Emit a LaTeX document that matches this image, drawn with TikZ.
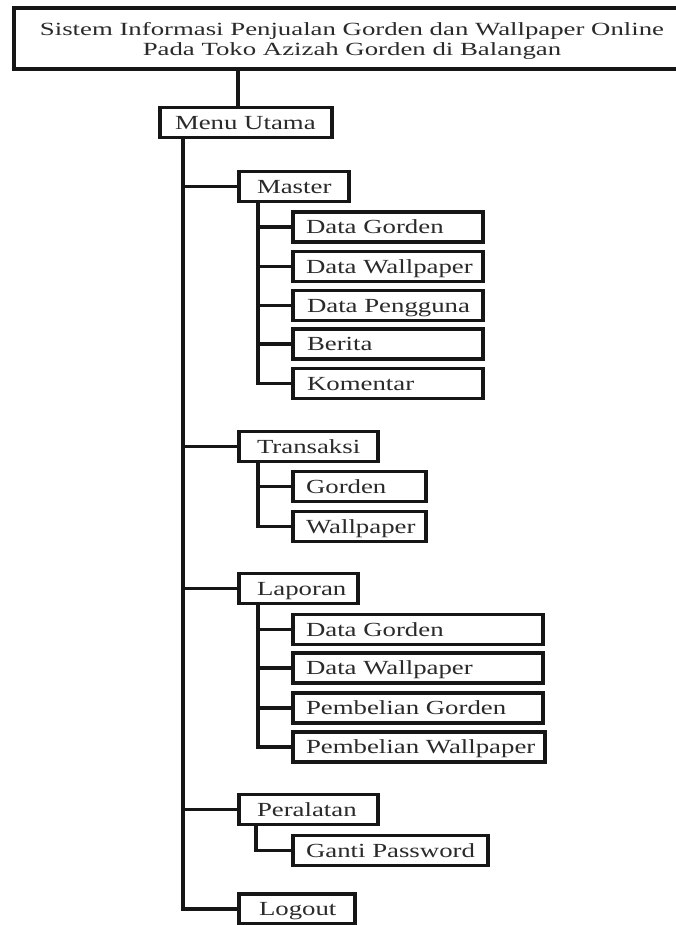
\documentclass[tikz,border=0pt]{standalone}
\usepackage{fontspec}
\setmainfont{Liberation Serif}[FakeStretch=1.34]
\newfontfamily\titlefont{Liberation Serif}[FakeStretch=1.44]
\definecolor{ink}{HTML}{161616}
\definecolor{txt}{HTML}{2A2A2A}
\newcommand\bl[3]{\hbox to #1pt{\hskip#2pt #3\hfil}}
\begin{document}
\begin{tikzpicture}[x=1pt,y=-1pt,
  bx/.style={draw=ink, line width=3.1pt, inner sep=0pt, outer sep=0pt,
    minimum height=30pt, text height=13.3pt, text depth=0pt, anchor=west,
    text=txt, font=\fontsize{20}{20}\selectfont},
  ttl/.style={draw=ink, line width=3.1pt, inner sep=0pt, outer sep=0pt,
    minimum width=676pt, minimum height=61pt, align=center, text=txt,
    font=\titlefont\fontsize{18.6}{19.5}\selectfont},
  ln/.style={draw=ink, line width=3.1pt}]
\useasboundingbox (0,0) rectangle (676,925);
\fill[white] (0,0) rectangle (676,925);

\node[ttl] (title) at (352,38.5) {\rule{0pt}{19pt}Sistem Informasi Penjualan Gorden dan Wallpaper Online\\Pada Toko Azizah Gorden di Balangan\rule[-5pt]{0pt}{0pt}};

\node[bx] (mu) at (160,122.5) {\bl{172}{15}{Menu Utama}};

\node[bx] (ms) at (239,186.5) {\bl{110}{18}{Master}};
\node[bx] (m1) at (293,227)   {\bl{190}{13}{Data Gorden}};
\node[bx] (m2) at (293,266.5) {\bl{190}{13}{Data Wallpaper}};
\node[bx] (m3) at (293,305.5) {\bl{190}{14}{Data Pengguna}};
\node[bx] (m4) at (293,344)   {\bl{190}{14}{Berita}};
\node[bx] (m5) at (293,383.5) {\bl{190}{14}{Komentar}};

\node[bx] (tx) at (239,446.5) {\bl{139}{18}{Transaksi}};
\node[bx] (t1) at (293,486.5) {\bl{133}{13}{Gorden}};
\node[bx] (t2) at (293,526.5) {\bl{133}{13}{Wallpaper}};

\node[bx] (lp) at (239,588.5) {\bl{119}{18}{Laporan}};
\node[bx] (l1) at (293,629.5) {\bl{250}{13}{Data Gorden}};
\node[bx] (l2) at (293,668)   {\bl{250}{13}{Data Wallpaper}};
\node[bx] (l3) at (293,708)   {\bl{250}{13}{Pembelian Gorden}};
\node[bx] (l4) at (293,747)   {\bl{252}{13}{Pembelian Wallpaper}};

\node[bx] (pr) at (239,809.5) {\bl{139}{18}{Peralatan}};
\node[bx] (p1) at (293,850.5) {\bl{195}{13}{Ganti Password}};

\node[bx] (lo) at (239,909)   {\bl{116}{20}{Logout}};

% title to menu
\draw[ln] ([xshift=-8pt]mu.north) -- ([xshift=-8pt]mu.north |- title.south);

% main trunk
\coordinate (tr) at ([xshift=23pt]mu.south west);
\draw[ln] (tr) |- (lo.west);
\foreach \n in {ms,tx,lp,pr} \draw[ln] (tr |- \n.west) -- (\n.west);

% master
\coordinate (msb) at ([xshift=19pt]ms.south west);
\draw[ln] (msb) |- (m5.west);
\foreach \n in {m1,m2,m3,m4} \draw[ln] (msb |- \n.west) -- (\n.west);

% transaksi
\coordinate (txb) at ([xshift=19pt]tx.south west);
\draw[ln] (txb) |- (t2.west);
\draw[ln] (txb |- t1.west) -- (t1.west);

% laporan
\coordinate (lpb) at ([xshift=19pt]lp.south west);
\draw[ln] (lpb) |- (l4.west);
\foreach \n in {l1,l2,l3} \draw[ln] (lpb |- \n.west) -- (\n.west);

% peralatan
\coordinate (prb) at ([xshift=17pt]pr.south west);
\draw[ln] (prb) |- (p1.west);
\end{tikzpicture}
\end{document}
